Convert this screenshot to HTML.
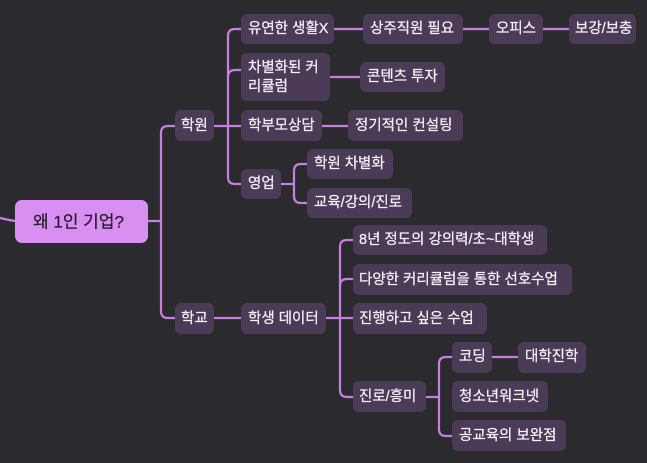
<!DOCTYPE html>
<html><head><meta charset="utf-8"><style>
html,body{margin:0;padding:0;background:#2b2b2f;}
svg{display:block}
text{font-family:"Liberation Sans","Noto Sans CJK KR",sans-serif;font-size:14.5px;fill:#f4f0f7;dominant-baseline:central;stroke:#f4f0f7;stroke-width:0.25}
</style></head><body>
<svg width="647" height="463" viewBox="0 0 647 463">
<rect width="647" height="463" fill="#2b2b2f"/>
<g fill="none" stroke="#c77fe0" stroke-width="2.2">
<path d="M0 218 Q8 220 15 221"/>
<path d="M148 221 H161"/>
<path d="M175 126 H168 Q161 126 161 133 V311 Q161 318 168 318 H175"/>
<path d="M214 126 H241"/>
<path d="M241 29 H235 Q228 29 228 36 V177 Q228 184 235 184 H241"/>
<path d="M228 77 Q228 70 235 70 H241"/>
<path d="M334 29 H363 M463 29 H489 M543 29 H569"/>
<path d="M330 77 H360"/>
<path d="M322 126 H348"/>
<path d="M281 184 H294"/>
<path d="M307 164 H301 Q294 164 294 171 V196 Q294 203 301 203 H307"/>
<path d="M214 318 H241"/>
<path d="M326 318 H353"/>
<path d="M353 240 H347 Q340 240 340 247 V390 Q340 397 347 397 H353"/>
<path d="M340 286 Q340 279 347 279 H353"/>
<path d="M426 397 H439"/>
<path d="M452 357 H446 Q439 357 439 364 V429 Q439 436 446 436 H452"/>
<path d="M492 357 H518"/>
</g>
<g fill="#4b3b57">
<rect x="15" y="200" width="133" height="43" rx="7" fill="#d98ef2"/>
<rect x="175" y="110" width="39" height="31" rx="6"/>
<rect x="175" y="303" width="39" height="31" rx="6"/>
<rect x="241" y="14" width="93" height="30" rx="6"/>
<rect x="241" y="53" width="89" height="48" rx="6"/>
<rect x="241" y="110" width="81" height="31" rx="6"/>
<rect x="241" y="169" width="40" height="30" rx="6"/>
<rect x="363" y="14" width="100" height="30" rx="6"/>
<rect x="489" y="14" width="54" height="30" rx="6"/>
<rect x="569" y="14" width="67" height="30" rx="6"/>
<rect x="360" y="62" width="85" height="30" rx="6"/>
<rect x="348" y="110" width="115" height="31" rx="6"/>
<rect x="307" y="149" width="86" height="30" rx="6"/>
<rect x="307" y="188" width="105" height="30" rx="6"/>
<rect x="241" y="303" width="85" height="31" rx="6"/>
<rect x="353" y="225" width="194" height="30" rx="6"/>
<rect x="353" y="264" width="219" height="31" rx="6"/>
<rect x="353" y="303" width="134" height="31" rx="6"/>
<rect x="353" y="381" width="73" height="31" rx="6"/>
<rect x="452" y="342" width="40" height="31" rx="6"/>
<rect x="518" y="342" width="68" height="31" rx="6"/>
<rect x="452" y="381" width="96" height="31" rx="6"/>
<rect x="452" y="420" width="114" height="31" rx="6"/>
</g>
<text x="33" y="222" style="font-size:17px;fill:#2a1f30;stroke:#2a1f30">왜 1인 기업?</text>
<text x="181" y="126">학원</text>
<text x="181" y="319">학교</text>
<text x="248" y="29">유연한 생활X</text>
<text x="248" y="68">차별화된 커</text>
<text x="248" y="87">리큘럼</text>
<text x="248" y="126">학부모상담</text>
<text x="248" y="184">영업</text>
<text x="370" y="29">상주직원 필요</text>
<text x="496" y="29">오피스</text>
<text x="575" y="29">보강/보충</text>
<text x="367" y="77">콘텐츠 투자</text>
<text x="355" y="126">정기적인 컨설팅</text>
<text x="314" y="164">학원 차별화</text>
<text x="314" y="203">교육/강의/진로</text>
<text x="248" y="319">학생 데이터</text>
<text x="359" y="240">8년 정도의 강의력/초~대학생</text>
<text x="359" y="280">다양한 커리큘럼을 통한 선호수업</text>
<text x="359" y="319">진행하고 싶은 수업</text>
<text x="359" y="397">진로/흥미</text>
<text x="459" y="357">코딩</text>
<text x="525" y="357">대학진학</text>
<text x="459" y="397">청소년워크넷</text>
<text x="459" y="436">공교육의 보완점</text>
</svg>
</body></html>
